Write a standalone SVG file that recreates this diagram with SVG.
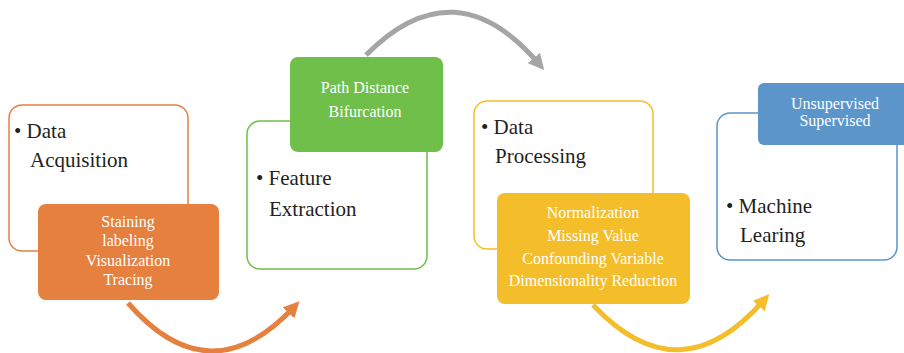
<svg xmlns="http://www.w3.org/2000/svg" width="904" height="353" viewBox="0 0 904 353">
<defs>
<style>
.out{fill:#fff;stroke-width:1.5}
.main{font-family:"Liberation Serif",serif;font-size:21px;fill:#231f20}
.sub{font-family:"Liberation Serif",serif;font-size:16px;fill:#fff;text-anchor:middle}
.arc{fill:none;stroke-width:5}
</style>
<marker id="mo" markerWidth="3.2" markerHeight="3.2" refX="1.6" refY="1.6" orient="auto" markerUnits="strokeWidth"><path d="M0,0 L3.2,1.6 L0,3.2 Z" fill="#E5803F"/></marker>
<marker id="mg" markerWidth="3.2" markerHeight="3.2" refX="1.6" refY="1.6" orient="auto" markerUnits="strokeWidth"><path d="M0,0 L3.2,1.6 L0,3.2 Z" fill="#A5A5A5"/></marker>
<marker id="my" markerWidth="3.2" markerHeight="3.2" refX="1.6" refY="1.6" orient="auto" markerUnits="strokeWidth"><path d="M0,0 L3.2,1.6 L0,3.2 Z" fill="#F4BD2A"/></marker>
</defs>
<rect width="904" height="353" fill="#fff"/>
<g id="connectors">
<path class="arc" stroke="#E5803F" d="M128,303 Q210,397 294,307" marker-end="url(#mo)"/>
<path class="arc" stroke="#A5A5A5" d="M366,55 Q455,-35 539,64" marker-end="url(#mg)"/>
<path class="arc" stroke="#F4BD2A" d="M593,305 Q680,397 764,300" marker-end="url(#my)"/>
</g>
<g id="node-acquisition">
<rect class="out" x="9" y="105" width="179" height="146" rx="13" stroke="#E5803F"/>
<text class="main" x="14" y="138">• Data</text>
<text class="main" x="30" y="167">Acquisition</text>
<rect x="38" y="204" width="181" height="96" rx="8" fill="#E5803F"/>
<text class="sub" x="128" y="227">Staining</text>
<text class="sub" x="128" y="246">labeling</text>
<text class="sub" x="128" y="266">Visualization</text>
<text class="sub" x="128" y="285">Tracing</text>
</g>
<g id="node-feature">
<rect class="out" x="247" y="121" width="180" height="148" rx="13" stroke="#70BF4A"/>
<text class="main" x="256" y="185">• Feature</text>
<text class="main" x="269" y="216">Extraction</text>
<rect x="290" y="57" width="153" height="95" rx="8" fill="#70BF4A"/>
<text class="sub" x="365" y="93">Path Distance</text>
<text class="sub" x="365" y="117">Bifurcation</text>
</g>
<g id="node-processing">
<rect class="out" x="474" y="101" width="179" height="148" rx="13" stroke="#F4BD2A"/>
<text class="main" x="481" y="134">• Data</text>
<text class="main" x="495" y="163">Processing</text>
<rect x="497" y="193" width="193" height="111" rx="8" fill="#F4BD2A"/>
<text class="sub" x="593" y="218">Normalization</text>
<text class="sub" x="593" y="241">Missing Value</text>
<text class="sub" x="593" y="264">Confounding Variable</text>
<text class="sub" x="593" y="286">Dimensionality Reduction</text>
</g>
<g id="node-ml">
<rect class="out" x="717" y="113" width="180" height="147" rx="13" stroke="#5B95C9"/>
<text class="main" x="726" y="213">• Machine</text>
<text class="main" x="740" y="242">Learing</text>
<rect x="758" y="83" width="154" height="62" rx="6" fill="#5B95C9"/>
<text class="sub" x="835" y="109">Unsupervised</text>
<text class="sub" x="835" y="126">Supervised</text>
</g>
</svg>
